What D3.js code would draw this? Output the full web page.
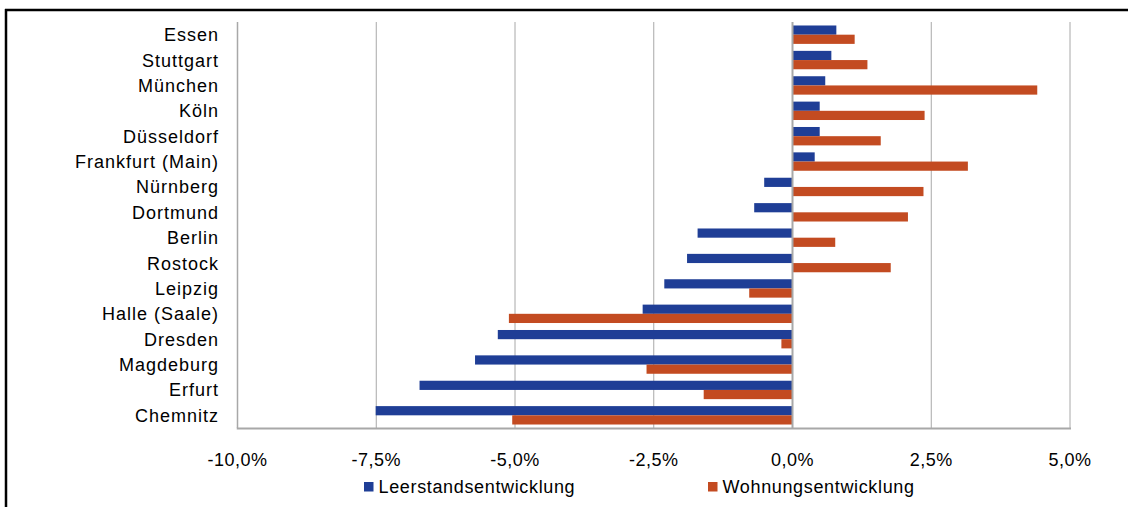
<!DOCTYPE html>
<html>
<head>
<meta charset="utf-8">
<script src="https://cdn.jsdelivr.net/npm/d3@7"></script>
<style>
  body { margin: 0; background: #fff; }
  svg { display: block; }
  text { font-family: "Liberation Sans", Arial, sans-serif; font-size: 18px; fill: #000; letter-spacing: 0.5px; }
  .cat { letter-spacing: 1px; }
  .legend text { letter-spacing: 0.65px; }
</style>
</head>
<body>
<div id="chart"></div>
<script>
// cities, top to bottom
var cities = ["Essen", "Stuttgart", "München", "Köln", "Düsseldorf", "Frankfurt (Main)",
    "Nürnberg", "Dortmund", "Berlin", "Rostock", "Leipzig", "Halle (Saale)",
    "Dresden", "Magdeburg", "Erfurt", "Chemnitz"];

// values in %
var leerstand = [0.79, 0.70, 0.59, 0.49, 0.49, 0.40, -0.51, -0.69, -1.71, -1.90,
    -2.31, -2.70, -5.31, -5.72, -6.72, -7.51];
var wohnungen = [1.12, 1.35, 4.41, 2.38, 1.59, 3.16, 2.36, 2.08, 0.77, 1.77,
    -0.78, -5.11, -0.20, -2.63, -1.60, -5.05];

var seriesNames = ["Leerstandsentwicklung", "Wohnungsentwicklung"];
var xTicks = [-10, -7.5, -5, -2.5, 0, 2.5, 5];

var colors = ["#1f3e96", "#c34b21"];

var W = 1128, H = 507;
var plot = {left: 237.5, right: 1070, top: 22, bottom: 428};

var svg = d3.select("#chart").append("svg")
    .attr("width", W)
    .attr("height", H);

// frame (only top and left are in the picture)
svg.append("line").attr("x1", 5).attr("x2", W).attr("y1", 10).attr("y2", 10)
    .attr("stroke", "#000").attr("stroke-width", 2.5);
svg.append("line").attr("x1", 6).attr("x2", 6).attr("y1", 9).attr("y2", H)
    .attr("stroke", "#000").attr("stroke-width", 2.5);

var data = cities.map(function(c, i) {
    return {city: c, values: [leerstand[i], wohnungen[i]]};
});

var x = d3.scaleLinear()
    .domain([-10, 5])
    .range([plot.left, plot.right]);

var y = d3.scaleBand()
    .domain(cities)
    .range([plot.top, plot.bottom])
    .paddingInner(0.275)
    .paddingOuter(0.1375);

var ySub = d3.scaleBand()
    .domain([0, 1])
    .range([0, y.bandwidth()]);

// grid
svg.append("g")
    .selectAll("line")
    .data(xTicks)
    .enter().append("line")
    .attr("x1", function(d) { return x(d); })
    .attr("x2", function(d) { return x(d); })
    .attr("y1", plot.top)
    .attr("y2", plot.bottom)
    .attr("stroke", "#a8a8a8")
    .attr("stroke-width", function(d) { return d === -10 ? 1.5 : 1; });

// bars
var group = svg.selectAll(".city")
    .data(data)
    .enter().append("g")
    .attr("class", "city")
    .attr("transform", function(d) { return "translate(0," + y(d.city) + ")"; });

group.selectAll("rect")
    .data(function(d) { return d.values; })
    .enter().append("rect")
    .attr("x", function(d) { return x(Math.min(0, d)); })
    .attr("y", function(d, i) { return ySub(i); })
    .attr("width", function(d) { return Math.abs(x(d) - x(0)); })
    .attr("height", ySub.bandwidth())
    .attr("fill", function(d, i) { return colors[i]; });

// zero line and bottom axis line
svg.append("line")
    .attr("x1", x(0)).attr("x2", x(0))
    .attr("y1", plot.top).attr("y2", plot.bottom)
    .attr("stroke", "#a8a8a8").attr("stroke-width", 2);

svg.append("line")
    .attr("x1", plot.left - 0.75).attr("x2", plot.right + 1)
    .attr("y1", plot.bottom + 0.5).attr("y2", plot.bottom + 0.5)
    .attr("stroke", "#a8a8a8").attr("stroke-width", 2);

// category labels
svg.append("g")
    .selectAll("text")
    .data(cities)
    .enter().append("text")
    .attr("class", "cat")
    .attr("x", 219)
    .attr("y", function(d) { return y(d) + y.bandwidth() / 2 + 6.5; })
    .attr("text-anchor", "end")
    .text(function(d) { return d; });

// x tick labels
svg.append("g")
    .selectAll("text")
    .data(xTicks)
    .enter().append("text")
    .attr("x", function(d) { return x(d); })
    .attr("y", 466)
    .attr("text-anchor", "middle")
    .text(function(d) { return d.toFixed(1).replace(".", ",") + "%"; });

// legend
var legendX = [364, 708];
var legend = svg.selectAll(".legend")
    .data(seriesNames)
    .enter().append("g")
    .attr("class", "legend")
    .attr("transform", function(d, i) { return "translate(" + legendX[i] + ",482)"; });

legend.append("rect")
    .attr("width", 9.5)
    .attr("height", 9.5)
    .attr("fill", function(d, i) { return colors[i]; });

legend.append("text")
    .attr("x", 14.5)
    .attr("y", 10.5)
    .text(function(d) { return d; });
</script>
</body>
</html>
